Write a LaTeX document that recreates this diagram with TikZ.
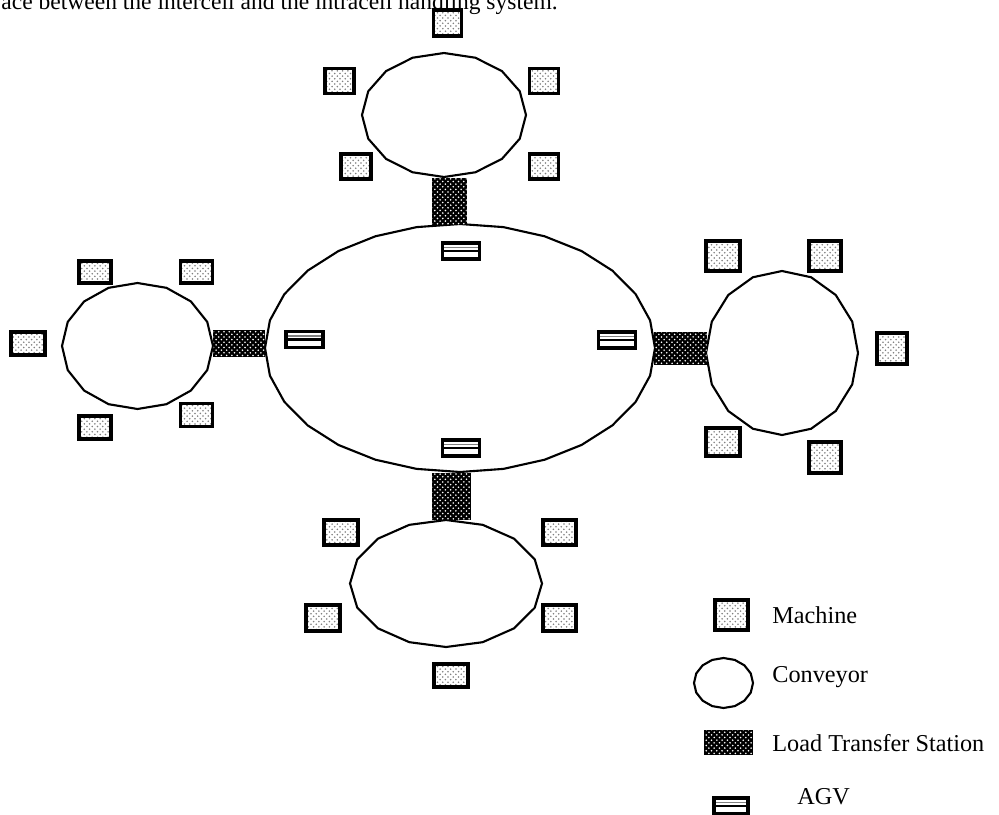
\documentclass[tikz,border=0pt]{standalone}
\usepackage{fontspec}
\setmainfont{Liberation Serif}
\usetikzlibrary{patterns}
\begin{document}
\begin{tikzpicture}[x=0.02cm,y=-0.02cm,
  machine/.style={draw,line width=2pt,pattern=crosshatch dots,pattern color=gray,
    minimum width=0.64cm,minimum height=0.50cm,inner sep=0pt},
  station/.style={draw,line width=1pt,fill=black,
    postaction={pattern=crosshatch dots,pattern color=white},inner sep=0pt},
  agv/.style={draw,line width=2pt,fill=white,minimum width=0.74cm,minimum height=0.32cm,inner sep=0pt,
    path picture={
      \draw[line width=1.5pt] (path picture bounding box.west) -- (path picture bounding box.east);
      \draw[gray,line width=0.8pt] ([yshift=2pt]path picture bounding box.west) -- ([yshift=2pt]path picture bounding box.east);}},
  conveyor/.style={line width=1.2pt,fill=white},
  legendtext/.style={anchor=west,inner sep=0pt,font=\fontsize{13.8}{16}\selectfont}]
\clip (0,0) rectangle (999,814);
\node[anchor=base west,inner sep=0pt,font=\fontsize{13.4}{16}\selectfont] (caption) at (1,10)
  {ace between the intercell and the intracell handling system.};
% conveyors
\draw[conveyor] plot[samples=29,domain=0:360,variable=\t] ({460+195*cos(\t)},{348+124*sin(\t)}) -- cycle;
\draw[conveyor] plot[samples=17,domain=0:360,variable=\t] ({444+82*cos(\t)},{115+62*sin(\t)}) -- cycle;
\draw[conveyor] plot[samples=17,domain=0:360,variable=\t] ({137.5+75.5*cos(\t)},{346+63*sin(\t)}) -- cycle;
\draw[conveyor] plot[samples=17,domain=0:360,variable=\t] ({782+76*cos(\t)},{353+82*sin(\t)}) -- cycle;
\draw[conveyor] plot[samples=17,domain=0:360,variable=\t] ({446+96*cos(\t)},{583.5+63.5*sin(\t)}) -- cycle;
% load transfer stations
\node[station,minimum width=0.68cm,minimum height=0.92cm] (ltsN) at (449.5,201.5) {};
\node[station,minimum width=1.02cm,minimum height=0.52cm] (ltsW) at (239,343.5) {};
\node[station,minimum width=1.04cm,minimum height=0.64cm] (ltsE) at (680.5,348.5) {};
\node[station,minimum width=0.76cm,minimum height=0.92cm] (ltsS) at (451.5,496.5) {};
% agvs
\node[agv] (agvN) at (461,251) {};
\node[agv] (agvW) at (304.5,339.5) {};
\node[agv] (agvE) at (617,340) {};
\node[agv] (agvS) at (461,448) {};
% machines, top cell
\node[machine,minimum width=0.56cm,minimum height=0.52cm] (mN1) at (447.5,23) {};
\node[machine,minimum width=0.58cm] (mN2) at (339.5,81) {};
\node[machine,minimum width=0.58cm] (mN3) at (544,81) {};
\node[machine,minimum width=0.60cm] (mN4) at (356,166.5) {};
\node[machine,minimum width=0.58cm] (mN5) at (544,166.5) {};
% machines, left cell
\node[machine,minimum height=0.44cm] (mW1) at (95,272) {};
\node[machine,minimum height=0.44cm] (mW2) at (196.5,272) {};
\node[machine,minimum width=0.68cm,minimum height=0.46cm] (mW3) at (28,343.5) {};
\node[machine,minimum height=0.46cm] (mW4) at (95,427.5) {};
\node[machine,minimum height=0.46cm] (mW5) at (196.5,415) {};
% machines, right cell
\node[machine,minimum width=0.68cm,minimum height=0.60cm] (mE1) at (723,256) {};
\node[machine,minimum width=0.64cm,minimum height=0.60cm] (mE2) at (825,256) {};
\node[machine,minimum width=0.60cm,minimum height=0.62cm] (mE3) at (892,348.5) {};
\node[machine,minimum width=0.68cm,minimum height=0.56cm] (mE4) at (723,442) {};
\node[machine,minimum width=0.64cm,minimum height=0.62cm] (mE5) at (825,457.5) {};
% machines, bottom cell
\node[machine,minimum width=0.68cm] (mS1) at (341,532.5) {};
\node[machine,minimum width=0.66cm] (mS2) at (559.5,532.5) {};
\node[machine,minimum width=0.68cm,minimum height=0.52cm] (mS3) at (323,618) {};
\node[machine,minimum width=0.66cm,minimum height=0.52cm] (mS4) at (559.5,618) {};
\node[machine,minimum width=0.68cm,minimum height=0.46cm] (mS5) at (451,675.5) {};
% legend
\node[machine,minimum width=0.66cm,minimum height=0.60cm] (keyM) at (731.5,615) {};
\node[legendtext] (txtM) at (772,615) {Machine};
\draw[conveyor] plot[samples=17,domain=0:360,variable=\t] ({723.5+29.5*cos(\t)},{683+25*sin(\t)}) -- cycle;
\node[legendtext] (txtC) at (772,677) {Conveyor};
\node[station,minimum width=0.96cm,minimum height=0.48cm] (keyL) at (728.5,742.5) {};
\node[legendtext] (txtL) at (772,743) {Load Transfer Station};
\node[agv,minimum width=0.68cm] (keyA) at (731,806) {};
\node[legendtext] (txtA) at (797,797) {AGV};
\end{tikzpicture}
\end{document}
